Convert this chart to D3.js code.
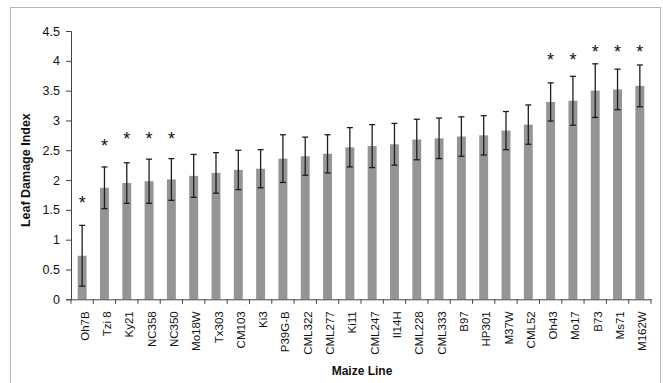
<!DOCTYPE html>
<html>
<head>
<meta charset="utf-8">
<script src="https://cdn.jsdelivr.net/npm/d3@7"></script>
<style>
  html, body { margin: 0; padding: 0; background: #fff; }
  svg { display: block; }
  text { font-family: "Liberation Sans", Arial, sans-serif; fill: #111; }
</style>
</head>
<body>
<svg id="chart" width="663" height="383"></svg>
<script>
const categories = ["Oh7B","Tzi 8","Ky21","NC358","NC350","Mo18W","Tx303","CM103","Ki3","P39G-B","CML322","CML277","Ki11","CML247","Il14H","CML228","CML333","B97","HP301","M37W","CML52","Oh43","Mo17","B73","Ms71","M162W"];
const values = [0.73,1.87,1.95,1.98,2.01,2.07,2.12,2.17,2.19,2.36,2.40,2.44,2.55,2.57,2.60,2.68,2.70,2.73,2.75,2.83,2.93,3.31,3.33,3.50,3.52,3.58];
const errors = [0.51,0.35,0.34,0.37,0.35,0.36,0.34,0.33,0.32,0.40,0.32,0.32,0.33,0.36,0.35,0.34,0.34,0.33,0.33,0.32,0.33,0.32,0.41,0.45,0.34,0.35];
// significance markers: category and the level (in index units) where the asterisk sits
const starCategories = ["Oh7B","Tzi 8","Ky21","NC358","NC350","Oh43","Mo17","B73","Ms71","M162W"];
const starLevels = [1.68,2.64,2.76,2.76,2.76,4.09,4.09,4.22,4.22,4.22];
const yTicks = [0,0.5,1,1.5,2,2.5,3,3.5,4,4.5];
const yTitle = "Leaf Damage Index";
const xTitle = "Maize Line";

const svg = d3.select("#chart");

// outer frame
svg.append("rect")
  .attr("x", 10.5).attr("y", 7.5)
  .attr("width", 650).attr("height", 420)
  .attr("fill", "none").attr("stroke", "#b5b5b5").attr("stroke-width", 1);

const x = d3.scaleBand().domain(categories).range([71, 651]).paddingInner(0.6).paddingOuter(0.3);
const y = d3.scaleLinear().domain([0, 4.5]).range([299.3, 31]);

const data = categories.map((c, i) => ({c, v: values[i], e: errors[i]}));

// bars
svg.append("g").selectAll("rect").data(data).join("rect")
  .attr("x", d => x(d.c))
  .attr("y", d => y(d.v))
  .attr("width", x.bandwidth())
  .attr("height", d => y(0) - y(d.v))
  .attr("fill", "#959595");

// error bars
const eg = svg.append("g").attr("stroke", "#1e1e1e").attr("stroke-width", 1.3);
const cx = d => x(d.c) + x.bandwidth() / 2;
eg.selectAll("line.v").data(data).join("line").attr("class", "v")
  .attr("x1", cx).attr("x2", cx)
  .attr("y1", d => y(d.v + d.e)).attr("y2", d => y(d.v - d.e));
eg.selectAll("line.t").data(data).join("line").attr("class", "t")
  .attr("x1", d => cx(d) - 3).attr("x2", d => cx(d) + 3)
  .attr("y1", d => y(d.v + d.e)).attr("y2", d => y(d.v + d.e));
eg.selectAll("line.b").data(data).join("line").attr("class", "b")
  .attr("x1", d => cx(d) - 3).attr("x2", d => cx(d) + 3)
  .attr("y1", d => y(d.v - d.e)).attr("y2", d => y(d.v - d.e));

// y axis
const yAxis = svg.append("g").attr("transform", "translate(71,0)")
  .call(d3.axisLeft(y).tickValues(yTicks).tickSize(5).tickPadding(6).tickFormat(d3.format("")));
yAxis.select(".domain").attr("stroke", "#444");
yAxis.selectAll(".tick line").attr("stroke", "#444");
yAxis.selectAll(".tick text").attr("font-size", 12.5).attr("fill", "#111")
  .attr("font-family", "'Liberation Sans', Arial, sans-serif");

// x axis (labels at band centres, ticks at band boundaries)
const xAxis = svg.append("g").attr("transform", `translate(0,${y(0)})`)
  .call(d3.axisBottom(x).tickSize(0).tickPadding(0));
xAxis.select(".domain").attr("stroke", "#444");
xAxis.selectAll(".tick text")
  .attr("font-size", 11.5).attr("fill", "#111")
  .attr("font-family", "'Liberation Sans', Arial, sans-serif")
  .attr("text-anchor", "end")
  .attr("transform", "rotate(-90)")
  .attr("x", -12).attr("y", 2.5).attr("dy", "0.35em");
const bounds = d3.range(categories.length + 1).map(i => x.range()[0] + i * x.step());
xAxis.append("g").selectAll("line").data(bounds).join("line")
  .attr("x1", d => d).attr("x2", d => d).attr("y1", 0).attr("y2", 4.5)
  .attr("stroke", "#444");

// asterisks
svg.append("g").selectAll("text").data(starCategories).join("text")
  .attr("x", d => x(d) + x.bandwidth() / 2)
  .attr("y", (d, i) => y(starLevels[i]))
  .attr("dy", "0.57em")
  .attr("text-anchor", "middle")
  .attr("font-size", 18)
  .text("*");

// axis titles
svg.append("text")
  .attr("transform", `translate(30,${(y(0)+y(4.5))/2 + 5}) rotate(-90)`)
  .attr("text-anchor", "middle")
  .attr("font-size", 12.5).attr("font-weight", "bold")
  .text(yTitle);
svg.append("text")
  .attr("x", 362).attr("y", 375)
  .attr("text-anchor", "middle")
  .attr("font-size", 12).attr("font-weight", "bold")
  .text(xTitle);
</script>
</body>
</html>
